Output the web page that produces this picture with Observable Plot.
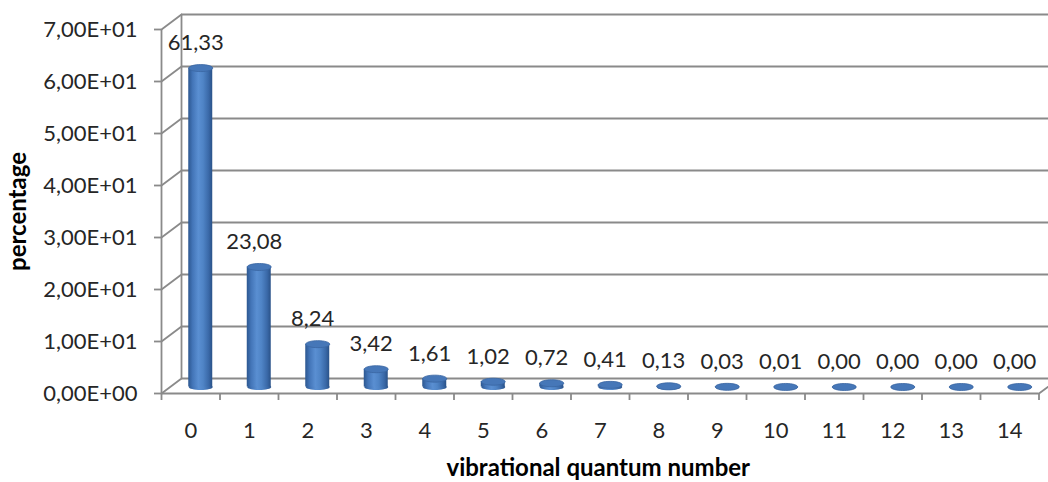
<!DOCTYPE html>
<html>
<head>
<meta charset="utf-8">
<script src="https://cdn.jsdelivr.net/npm/d3@7"></script>
<script src="https://cdn.jsdelivr.net/npm/@observablehq/plot@0.6"></script>
<style>
  html, body { margin: 0; padding: 0; background: #fff; }
  #chart svg { display: block; }
</style>
</head>
<body>
<div id="chart"></div>
<script>
// ---- data ----
const levels = [0, 1, 2, 3, 4, 5, 6, 7, 8, 9, 10, 11, 12, 13, 14];
const percentages = [61.33, 23.08, 8.24, 3.42, 1.61, 1.02, 0.72, 0.41, 0.13, 0.03, 0.01, 0.00, 0.00, 0.00, 0.00];
const yTicks = [0, 10, 20, 30, 40, 50, 60, 70];
const xTitle = "vibrational quantum number";
const yTitle = "percentage";

const data = levels.map((v, i) => ({v, p: percentages[i]}));
const bounds = d3.range(-0.5, 15, 1);

const fmtSci = v => {
  if (v === 0) return "0,00E+00";
  const e = Math.floor(Math.log10(v));
  const m = v / Math.pow(10, e);
  return m.toFixed(2).replace(".", ",") + "E+" + String(e).padStart(2, "0");
};
const fmtVal = v => v.toFixed(2).replace(".", ",");

const GRID = "#8a8a8a";
const TXT = "#262626";
const FONT = "Lato, 'Open Sans', sans-serif";
const DX = 20, DY = -15;           // depth offset of the back wall
const halfW = 0.205;               // half width of cylinder (x units)

const ellipse = (rx, ry) => ({
  draw(ctx) {
    const k = 0.5523;
    ctx.moveTo(rx, 0);
    ctx.bezierCurveTo(rx, ry * k, rx * k, ry, 0, ry);
    ctx.bezierCurveTo(-rx * k, ry, -rx, ry * k, -rx, 0);
    ctx.bezierCurveTo(-rx, -ry * k, -rx * k, -ry, 0, -ry);
    ctx.bezierCurveTo(rx * k, -ry, rx, -ry * k, rx, 0);
    ctx.closePath();
  }
});
const lineShape = { draw(ctx, l) { ctx.moveTo(0, 0); ctx.lineTo(0, -l); } };
const diagLen = Math.hypot(DX, DY);
const diagAngle = Math.atan2(DX, -DY) * 180 / Math.PI;

const chart = Plot.plot({
  width: 1048,
  height: 482,
  marginLeft: 161,
  marginRight: 9.5,
  marginTop: 29,
  marginBottom: 89,
  style: {fontFamily: FONT, color: TXT, background: "#fff"},
  x: {type: "linear", domain: [-0.5, 14.5], axis: null},
  y: {type: "linear", domain: [0, 70], axis: null},
  marks: [
    // back wall gridlines
    Plot.ruleY(yTicks, {x1: -0.5, x2: 14.9, dx: DX, dy: DY, stroke: GRID, strokeWidth: 1.8}),
    // back wall left edge
    Plot.ruleX([-0.5], {y1: 0, y2: 70, dx: DX, dy: DY, stroke: GRID, strokeWidth: 1.8}),
    // left wall diagonals
    Plot.vector(yTicks, {x: -0.5, y: d => d, length: diagLen, rotate: diagAngle, anchor: "start", shape: lineShape, stroke: GRID, strokeWidth: 1.8}),
    // floor right diagonal
    Plot.vector([0], {x: 14.5, y: d => d, length: diagLen, rotate: diagAngle, anchor: "start", shape: lineShape, stroke: GRID, strokeWidth: 1.8}),
    // front axis lines
    Plot.ruleX([-0.5], {y1: 0, y2: 70, stroke: GRID, strokeWidth: 1.8}),
    Plot.ruleY([0], {x1: -0.5, x2: 14.5, stroke: GRID, strokeWidth: 1.8}),
    // y axis ticks + labels
    Plot.axisY(yTicks, {tickSize: 7, tickPadding: 17, tickFormat: fmtSci, label: null, stroke: GRID, strokeWidth: 1.8, fill: TXT, fontSize: 22, x: -0.5}),
    // x boundary ticks
    Plot.axisX(bounds, {tickSize: 7, tickFormat: () => "", label: null, stroke: GRID, strokeWidth: 1.8}),
    // x category labels
    Plot.text(data, {x: "v", text: d => String(d.v), frameAnchor: "bottom", lineAnchor: "middle", dy: 37, fontSize: 22, fill: TXT}),
    // cylinders: bottom ellipse, body, top ellipse
    Plot.dot(data, {x: "v", y: () => 0, dx: 10, dy: DY / 2 + 1, symbol: ellipse(12, 3), fill: "url(#cylGrad)", stroke: "none"}),
    Plot.rectY(data, {x1: d => d.v - halfW, x2: d => d.v + halfW, y: "p", dx: 10, dy: DY / 2 + 1, fill: "url(#cylGrad)", inset: 0}),
    Plot.dot(data, {x: "v", y: "p", dx: 10, dy: DY / 2 + 1, symbol: ellipse(12, 3.5), fill: "#4677b8", stroke: "#3a66a2", strokeWidth: 0.8}),
    // value labels
    Plot.text(data, {x: "v", y: "p", text: d => fmtVal(d.p), dx: 5, dy: DY / 2 - 24, fontSize: 22, fill: TXT}),
    // axis titles
    Plot.text([yTitle], {frameAnchor: "left", textAnchor: "middle", lineAnchor: "middle", rotate: -90, dx: -143, fontSize: 24, fontWeight: "bold", fill: "#000"}),
    Plot.text([xTitle], {frameAnchor: "bottom", textAnchor: "middle", lineAnchor: "middle", dy: 75, dx: -2, fontSize: 24, fontWeight: "bold", fill: "#000"})
  ]
});

// gradient for the cylinder bodies
const svg = d3.select(chart.tagName.toLowerCase() === "svg" ? chart : chart.querySelector("svg"));
const defs = svg.insert("defs", ":first-child");
const g = defs.append("linearGradient").attr("id", "cylGrad")
  .attr("x1", "0%").attr("x2", "100%").attr("y1", "0%").attr("y2", "0%");
[[0, "#2c5790"], [0.18, "#4375b8"], [0.42, "#5a8fd2"], [0.62, "#4f84c6"], [0.85, "#3a69a8"], [1, "#2a5288"]]
  .forEach(([o, c]) => g.append("stop").attr("offset", o).attr("stop-color", c));

document.getElementById("chart").appendChild(chart);
</script>
</body>
</html>
